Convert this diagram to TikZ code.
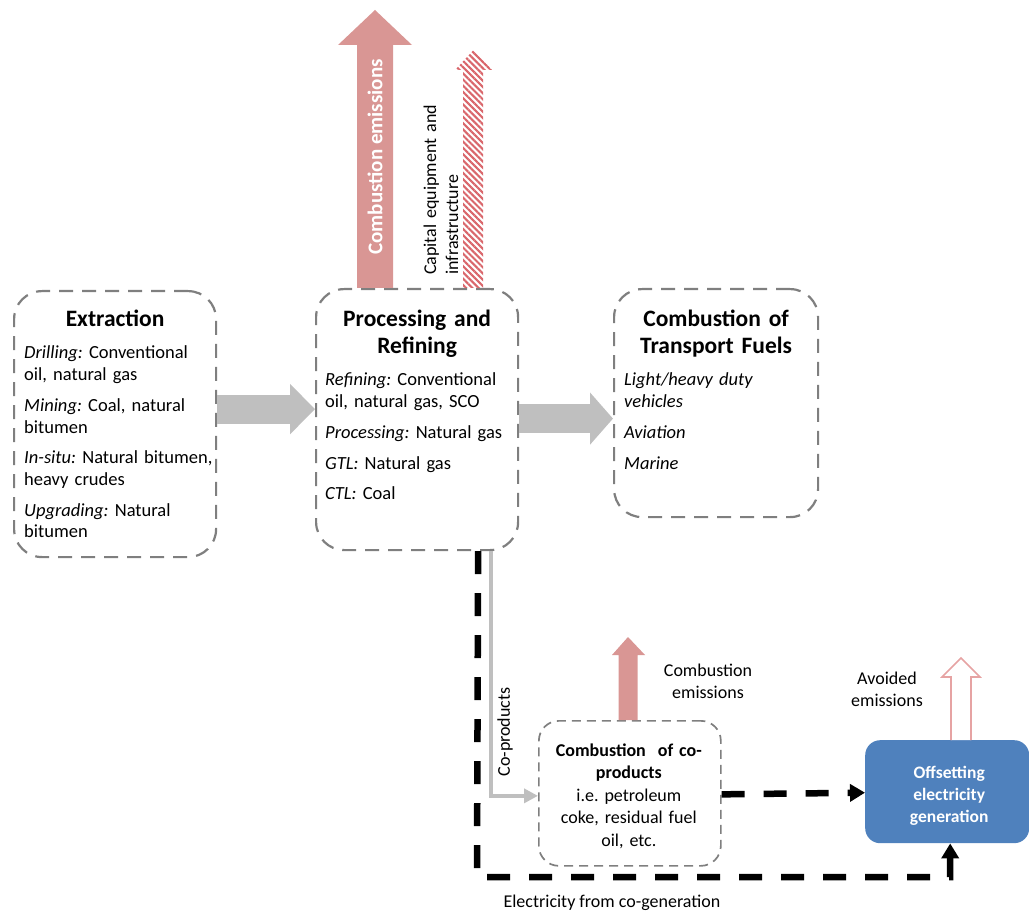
\documentclass[tikz,border=0pt]{standalone}
\usepackage{fontspec}
\setmainfont{Carlito}
\usetikzlibrary{arrows.meta,calc,patterns.meta}

\definecolor{boxgray}{HTML}{7F7F7F}
\definecolor{flowgray}{HTML}{BFBFBF}
\definecolor{emisred}{HTML}{D99694}
\definecolor{hatchred}{HTML}{D9666B}
\definecolor{offblue}{HTML}{4F81BD}
\definecolor{avoidred}{HTML}{E6A3A3}

\frenchspacing
\begin{document}
\begin{tikzpicture}[x=1pt,y=-1pt,
  stage/.style={draw=boxgray, line width=2.2pt, dash pattern=on 14pt off 9pt,
    rounded corners=28pt, inner sep=0pt, anchor=north west},
  minibox/.style={draw=boxgray, line width=1.7pt, dash pattern=on 9pt off 6pt,
    rounded corners=20pt, inner sep=0pt, anchor=north west},
  heading/.style={font=\fontsize{23.5}{26.5}\selectfont\bfseries, align=center,
    text width=200pt, inner sep=0pt, anchor=base},
  items/.style={font=\fontsize{18.5}{21.7}\selectfont, align=left, text width=195pt,
    inner sep=0pt, anchor=base west},
  label/.style={font=\fontsize{18}{22}\selectfont, align=center, inner sep=0pt},
  flow/.style={draw=flowgray, line width=#1},
  cogen/.style={draw=black, line width=6.5pt, dash pattern=on 23pt off 19pt,
    -{Triangle[width=17pt,length=15pt]}},
]
\useasboundingbox (0,0) rectangle (1029,917);

% ---- process stages ----
\node[stage, minimum width=202pt, minimum height=266pt] (ext) at (13,290) {};
\node[stage, minimum width=202pt, minimum height=261pt] (proc) at (315,288) {};
\node[stage, minimum width=204pt, minimum height=228pt] (trans) at (613,288) {};

\node[heading] (extH) at ($(ext.north)+(0,37)$) {Extraction};
\node[items] (extB) at ($(ext.north west)+(11,69)$) {%
  \textit{Drilling:} Conventional\\ oil, natural gas\\[9pt]
  \textit{Mining:} Coal, natural\\ bitumen\\[9pt]
  \textit{In-situ:} Natural bitumen,\\ heavy crudes\\[9pt]
  \textit{Upgrading:} Natural\\ bitumen};

\node[heading] (procH) at ($(proc.north)+(0,39)$) {Processing and\\Refining};
\node[items] (procB) at ($(proc.north west)+(10,98)$) {%
  \textit{Refining:} Conventional\\ oil, natural gas, SCO\\[9pt]
  \textit{Processing:} Natural gas\\[9pt]
  \textit{GTL:} Natural gas\\[8.5pt]
  \textit{CTL:} Coal};

\node[heading] (transH) at ($(trans.north)+(0,39)$) {Combustion of\\Transport Fuels};
\node[items] (transB) at ($(trans.north west)+(11,98)$) {%
  \textit{Light/heavy duty}\\ \textit{vehicles}\\[9pt]
  \textit{Aviation}\\[9pt]
  \textit{Marine}};

% ---- main flow between stages ----
\coordinate (f1) at ($(ext.east)+(0,-15)$);
\draw[flow=29pt, -{Triangle[width=49pt,length=25pt]}] (f1) -- (f1 -| proc.west);
\coordinate (f2) at ($(proc.east)+(0,-1)$);
\draw[flow=29pt, -{Triangle[width=51pt,length=23pt]}] (f2) -- (f2 -| trans.west);

% ---- emissions above processing ----
\fill[emisred] (357,288) -- (357,45) -- (338,45) -- (375,10) -- (412,45)
  -- (393,45) -- (393,288) -- cycle;
\node[font=\fontsize{21}{24}\selectfont\bfseries, text=white, rotate=90,
  inner sep=0pt] (combEm) at (375,157) {Combustion emissions};

\fill[pattern={Lines[angle=-45,distance=4.4pt,line width=2.1pt]},
  pattern color=hatchred]
  (463,288) -- (463,70) -- (455,70) -- (473.5,50) -- (492,70) -- (483,70)
  -- (483,288) -- cycle;
\node[font=\fontsize{18}{22}\selectfont, align=left, text width=200pt, rotate=90,
  inner sep=0pt, anchor=base west] (capex) at (436,275)
  {Capital equipment and\\infrastructure};

% ---- co-product combustion ----
\node[minibox, minimum width=182pt, minimum height=145pt] (cop) at (538,720) {};
\node[font=\fontsize{18}{22.5}\selectfont, align=center, text width=180pt,
  inner sep=0pt, anchor=base] (copT) at ($(cop.north)+(-1,36)$) {%
  \textbf{Combustion\ \ of co-}\\ \textbf{products}\\ i.e. petroleum\\
  coke, residual fuel\\ oil, etc.};

\fill[emisred] (618.5,720) -- (618.5,655) -- (612,655) -- (628,637) -- (645,655)
  -- (637.5,655) -- (637.5,720) -- cycle;
\node[label] (copEm) at (708,681) {Combustion\\emissions};

% ---- offsetting electricity ----
\node[fill=offblue, rounded corners=15pt, minimum width=164pt, minimum height=103pt,
  inner sep=0pt, anchor=north west] (grid) at (865,740) {};
\node[font=\fontsize{17.5}{22}\selectfont\bfseries, text=white, align=center,
  inner sep=0pt] (gridT) at ($(grid.center)+(2,4)$) {Offsetting\\electricity\\generation};

\draw[draw=avoidred, fill=white, line width=1.6pt] (951,740) -- (951,677) -- (942,677)
  -- (961,658) -- (980,677) -- (971,677) -- (971,740);
\node[label] (avoid) at (887,689) {Avoided\\emissions};

% ---- co-products and co-generation routes ----
\coordinate (copTop) at ($(proc.south)+(74,0)$);
\coordinate (copIn) at ($(cop.west)+(0,2.5)$);
\draw[flow=4pt, -{Triangle[width=14pt,length=14pt]}] (copTop) -- (copTop |- copIn)
  -- (copIn);
\node[label, rotate=90] (copL) at (505,732) {Co-products};

\coordinate (cgTop) at ($(proc.south)+(61,0)$);
\coordinate (cgCorner) at (477,877);
\coordinate (cgEnd) at ($(grid.south)+(3,0)$);
\draw[cogen] (cgTop) -- (cgCorner) -- (cgEnd |- cgCorner) -- (cgEnd);
\draw[cogen] ($(cop.east)+(0,1)$) -- ($(grid.west)+(0,1)$);
\node[label, anchor=base] (cgL) at (612,907) {Electricity from co-generation};
\end{tikzpicture}
\end{document}
